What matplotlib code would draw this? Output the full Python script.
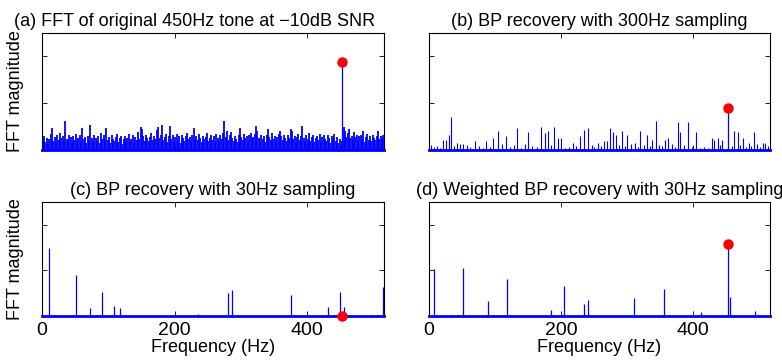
import numpy as np
import matplotlib
matplotlib.use("Agg")
import matplotlib.pyplot as plt

plt.rcParams['font.family'] = ['Liberation Sans', 'DejaVu Sans']

# (a) noisy spectrum of the original tone, one value every 2 Hz starting at 1 Hz
noise_a = [
    0.22, 0.30, 0.18, 0.26, 0.12, 0.24, 0.34, 0.46, 0.20, 0.28, 0.15, 0.32, 0.22, 0.36, 0.25, 0.30,
    0.20, 0.63, 0.24, 0.18, 0.33, 0.27, 0.14, 0.30, 0.22, 0.35, 0.19, 0.26, 0.31, 0.17, 0.46, 0.24,
    0.28, 0.16, 0.30, 0.22, 0.54, 0.25, 0.18, 0.33, 0.26, 0.20, 0.29, 0.15, 0.36, 0.24, 0.31, 0.22,
    0.46, 0.21, 0.27, 0.14, 0.32, 0.24, 0.19, 0.28, 0.35, 0.17, 0.25, 0.30, 0.13, 0.23, 0.29, 0.20,
    0.26, 0.34, 0.18, 0.24, 0.31, 0.15, 0.27, 0.22, 0.38, 0.24, 0.50, 0.44, 0.30, 0.20, 0.33, 0.26,
    0.19, 0.28, 0.36, 0.22, 0.30, 0.24, 0.42, 0.50, 0.26, 0.32, 0.54, 0.21, 0.27, 0.35, 0.18, 0.30,
    0.52, 0.24, 0.31, 0.19, 0.27, 0.35, 0.22, 0.29, 0.16, 0.33, 0.25, 0.20, 0.30, 0.37, 0.23, 0.28,
    0.18, 0.32, 0.46, 0.24, 0.29, 0.21, 0.35, 0.26, 0.17, 0.30, 0.23, 0.28, 0.36, 0.20, 0.25, 0.31,
    0.22, 0.29, 0.15, 0.34, 0.26, 0.20, 0.31, 0.24, 0.36, 0.63, 0.28, 0.40, 0.22, 0.33, 0.38, 0.25,
    0.19, 0.30, 0.24, 0.17, 0.33, 0.46, 0.27, 0.21, 0.35, 0.25, 0.29, 0.18, 0.31, 0.37, 0.23, 0.28,
    0.34, 0.52, 0.40, 0.26, 0.20, 0.32, 0.24, 0.29, 0.17, 0.33, 0.44, 0.27, 0.21, 0.36, 0.24, 0.30,
    0.18, 0.28, 0.35, 0.40, 0.30, 0.22, 0.33, 0.26, 0.19, 0.31, 0.25, 0.44, 0.40, 0.23, 0.29, 0.16,
    0.27, 0.34, 0.22, 0.29, 0.52, 0.25, 0.19, 0.31, 0.24, 0.36, 0.20, 0.28, 0.33, 0.17, 0.26, 0.30,
    0.22, 0.35, 0.18, 0.27, 0.31, 0.24, 0.20, 0.33, 0.26, 0.15, 0.29, 0.23, 0.34, 0.19, 0.28, 0.16,
    0.24, 0.10, 0.20, 0.50, 0.40, 0.28, 0.36, 0.44, 0.25, 0.30, 0.22, 0.38, 0.27, 0.33, 0.20, 0.29,
    0.31, 0.24, 0.40, 0.18, 0.27, 0.35, 0.22, 0.30, 0.19, 0.33, 0.26, 0.21, 0.29, 0.40, 0.24, 0.30,
    0.26, 0.32,
]
freq_a = np.arange(1, 1 + 2 * len(noise_a), 2)

# (b) BP recovery, 300 Hz sampling
freq_b = [3, 7, 12, 17, 21, 26, 30, 34, 38, 42, 47, 52, 57, 62, 69, 75, 81, 87, 92, 97,
          105, 110, 117, 122, 128, 133, 139, 145, 150, 156, 163, 170, 176, 180, 185, 189, 195, 200, 206, 212,
          218, 223, 228, 235, 240, 246, 250, 255, 260, 265, 270, 274, 279, 283, 288, 292, 296, 300, 305, 311,
          316, 320, 326, 330, 334, 338, 343, 348, 352, 357, 362, 367, 372, 377, 380, 386, 392, 398, 404, 410,
          416, 422, 428, 432, 437, 441, 444, 458, 462, 468, 471, 475, 480, 484, 488, 492, 497, 501, 505, 509, 513]
mag_b = [0.10, 0.06, 0.08, 0.04, 0.22, 0.22, 0.32, 0.71, 0.08, 0.14, 0.12, 0.12, 0.10, 0.06, 0.20, 0.08, 0.04, 0.20, 0.06, 0.25,
         0.40, 0.12, 0.29, 0.06, 0.10, 0.47, 0.05, 0.12, 0.38, 0.08, 0.06, 0.49, 0.37, 0.41, 0.10, 0.50, 0.25, 0.25, 0.04, 0.06,
         0.14, 0.08, 0.29, 0.43, 0.47, 0.10, 0.06, 0.14, 0.08, 0.20, 0.19, 0.47, 0.38, 0.32, 0.10, 0.40, 0.08, 0.33, 0.12, 0.15,
         0.06, 0.41, 0.10, 0.32, 0.08, 0.22, 0.62, 0.10, 0.08, 0.22, 0.25, 0.12, 0.06, 0.59, 0.38, 0.10, 0.59, 0.06, 0.38, 0.04,
         0.06, 0.04, 0.25, 0.21, 0.25, 0.10, 0.22, 0.08, 0.41, 0.38, 0.10, 0.25, 0.06, 0.15, 0.08, 0.38, 0.12, 0.06, 0.15, 0.15, 0.08]

# (c) BP recovery, 30 Hz sampling
freq_c = [10, 52, 72, 91, 108, 117, 236, 281, 287, 376, 432, 449, 455, 515]
mag_c = [1.49, 0.90, 0.17, 0.53, 0.23, 0.17, 0.04, 0.50, 0.57, 0.47, 0.19, 0.53, 0.19, 0.63]

# (d) weighted BP recovery, 30 Hz sampling
freq_d = [8, 51, 90, 118, 185, 205, 235, 241, 310, 355, 412, 455, 494]
mag_d = [1.04, 1.06, 0.32, 0.82, 0.14, 0.66, 0.26, 0.35, 0.39, 0.60, 0.08, 0.41, 0.10]

# the true tone and its recovered magnitude in each panel
tone_freq = 453
tone_mag = [1.87, 0.90, 0.0, 1.58]

titles = [
    "(a) FFT of original 450Hz tone at \u221210dB SNR",
    "(b) BP recovery with 300Hz sampling",
    "(c) BP recovery with 30Hz sampling",
    "(d) Weighted BP recovery with 30Hz sampling",
]

fig = plt.figure(figsize=(7.82, 3.64), dpi=100)
W, H = 782, 364
boxes = [(42, 33, 342, 117), (429, 33, 341, 117), (42, 202, 342, 114), (429, 202, 341, 114)]
axes = [fig.add_axes([x / W, 1 - (y + h) / H, w / W, h / H]) for x, y, w, h in boxes]

series = [(freq_a, noise_a, 1.3), (freq_b, mag_b, 0.8), (freq_c, mag_c, 0.9), (freq_d, mag_d, 0.9)]

for i, ax in enumerate(axes):
    f, m, lw = series[i]
    ax.vlines(f, 0, m, color='#0000ff', lw=lw)
    ax.vlines([tone_freq], 0, [tone_mag[i]], color='#0000ff', lw=0.9)
    ax.plot([0, 516], [0, 0], color='#0000ff', lw=2.0, zorder=3, clip_on=False)
    ax.plot([tone_freq], [tone_mag[i]], 'o', color='#ff0000', ms=6.5, zorder=5, clip_on=False)
    ax.set_xlim(0, 516)
    ax.set_ylim(0, 2.5)
    ax.set_xticks([0, 200, 400])
    ax.set_yticks([0, 1, 2])
    ax.set_yticklabels([])
    ax.tick_params(direction='in', top=True, right=True, length=3.5, width=0.6, labelsize=14, pad=4)
    for s in ax.spines.values():
        s.set_linewidth(0.8)
    if i < 2:
        ax.set_xticklabels([])
    else:
        ax.set_xlabel("Frequency (Hz)", fontsize=13, labelpad=0)
    if i % 2 == 0:
        ax.set_ylabel("FFT magnitude", fontsize=13, labelpad=9)
    if i == 0:
        ax.set_title(titles[i], fontsize=13, x=0.447, pad=5)
    else:
        ax.set_title(titles[i], fontsize=13, pad=5)

fig.savefig("out.png", dpi=100)
